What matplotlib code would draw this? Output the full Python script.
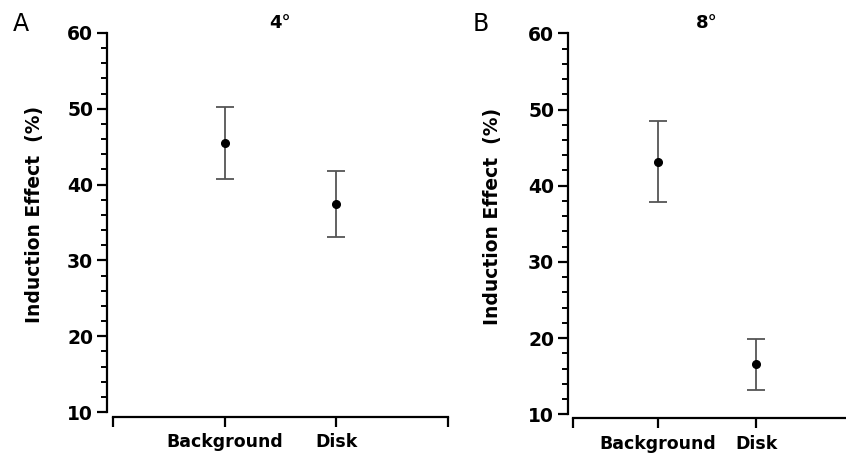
import numpy as np
import matplotlib.pyplot as plt
from matplotlib.ticker import MultipleLocator

conditions = ['Background', 'Disk']
mean_4 = [45.5, 37.4]
upper_4 = [50.3, 41.8]
lower_4 = [40.7, 33.1]
mean_8 = [43.1, 16.6]
upper_8 = [48.5, 19.9]
lower_8 = [37.9, 13.2]

W, H = 846, 454
fig = plt.figure(figsize=(W / 100, H / 100), dpi=100)


def px_axes(x0, x1, y_top, y_bot):
    return fig.add_axes([x0 / W, 1 - y_bot / H, (x1 - x0) / W, (y_bot - y_top) / H])


def panel(ax, means, up, lo, xlim, xticks, left_off, bot_off):
    x = np.arange(1, len(means) + 1)
    means = np.array(means)
    yerr = [means - np.array(lo), np.array(up) - means]
    ax.errorbar(x, means, yerr=yerr, fmt='o', color='black', ms=5.5,
                ecolor='#555555', elinewidth=1.3, capsize=6.5, capthick=1.3,
                zorder=3)
    ax.set_xlim(*xlim)
    ax.set_ylim(10, 60)
    ax.yaxis.set_major_locator(MultipleLocator(10))
    ax.yaxis.set_minor_locator(MultipleLocator(2))
    ax.set_xticks(xticks)
    if len(xticks) == 3:
        ax.set_xticklabels([''] + conditions)
    else:
        ax.set_xticklabels([''] + conditions + [''])
    for s in ['top', 'right']:
        ax.spines[s].set_visible(False)
    ax.spines['left'].set_position(('outward', left_off))
    ax.spines['bottom'].set_position(('outward', bot_off))
    ax.spines['left'].set_linewidth(1.6)
    ax.spines['bottom'].set_linewidth(1.6)
    ax.tick_params(axis='y', which='major', length=7, width=1.6, labelsize=13.5, pad=3)
    ax.tick_params(axis='y', which='minor', length=4, width=1.4)
    ax.tick_params(axis='x', length=7.5, width=1.6, labelsize=12.5, pad=4.5)
    for lab in ax.get_xticklabels() + ax.get_yticklabels():
        lab.set_fontweight('bold')
    ax.set_ylabel('Induction Effect  (%)', fontsize=13.5, fontweight='bold')


# panel A (4 deg)
axA = px_axes(113, 448, 33, 412)
panel(axA, mean_4, upper_4, lower_4, (0, 3), [0, 1, 2, 3], 4.3, 3.4)
axA.yaxis.set_label_coords(-0.205, 0.52)

# panel B (8 deg)
axB = px_axes(573, 846, 33.3, 414.3)
panel(axB, mean_8, upper_8, lower_8, (0.138, 2.915), [0.138, 1, 2], 3.6, 2.8)
axB.yaxis.set_label_coords(-0.26, 0.52)

fig.text(280 / W, 1 - 23 / H, '4°', ha='center', va='center', fontsize=13, fontweight='bold')
fig.text(707 / W, 1 - 23 / H, '8°', ha='center', va='center', fontsize=13, fontweight='bold')
fig.text(21 / W, 1 - 24 / H, 'A', ha='center', va='center', fontsize=17)
fig.text(481 / W, 1 - 24 / H, 'B', ha='center', va='center', fontsize=17)

fig.savefig('out.png', dpi=100)
